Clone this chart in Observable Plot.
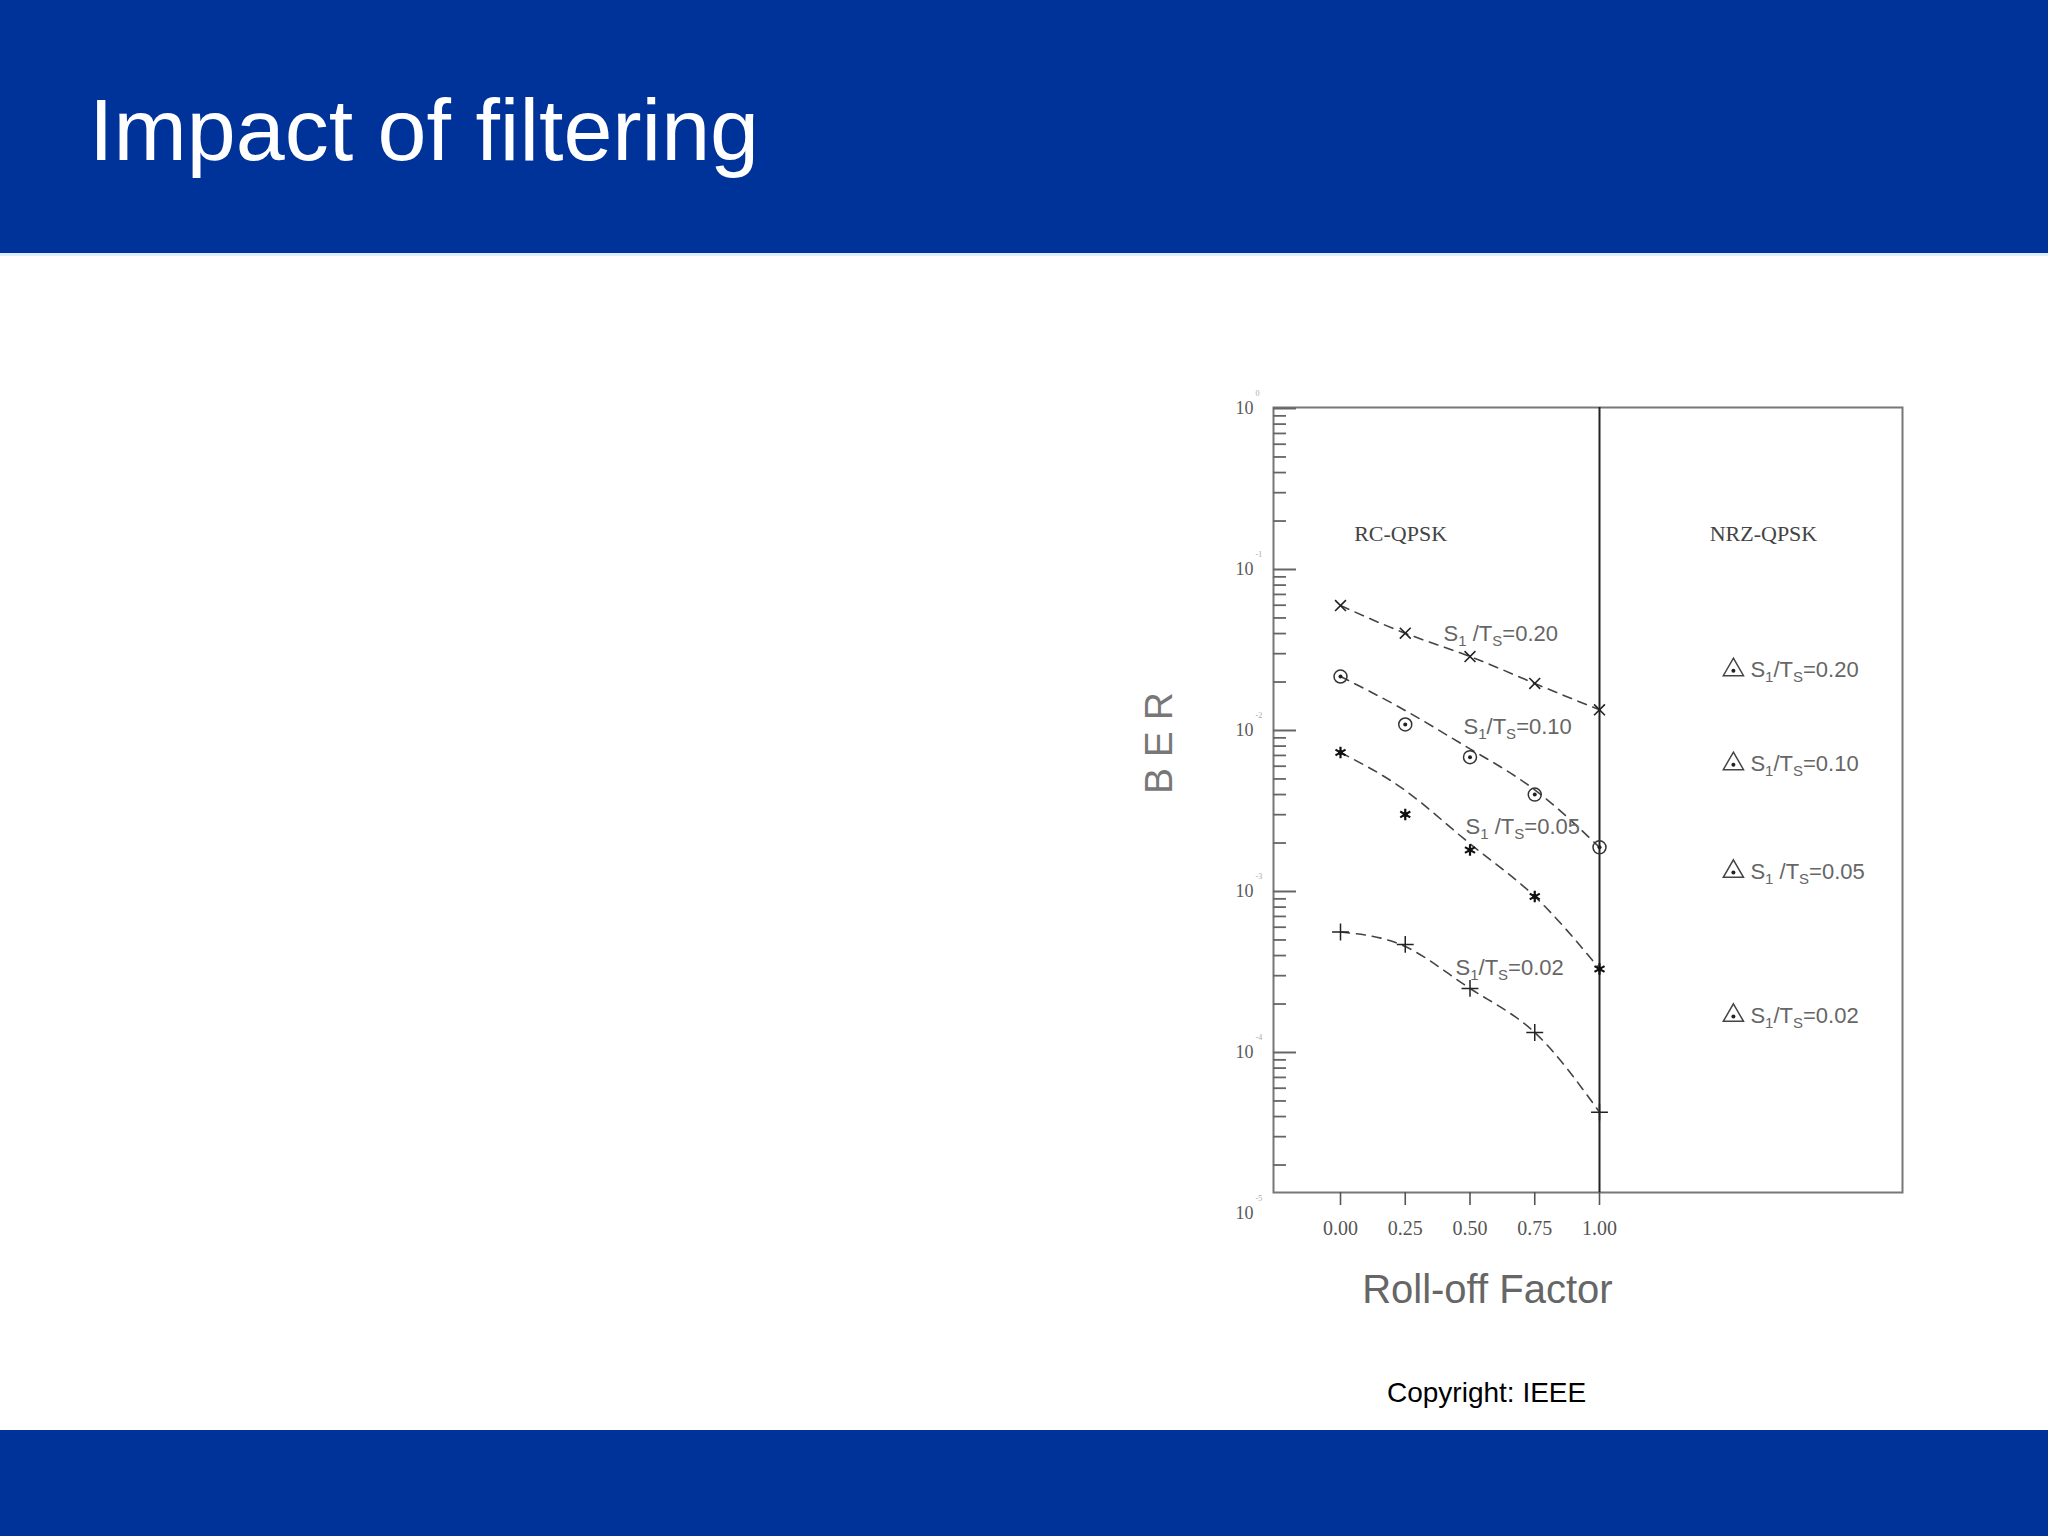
<!DOCTYPE html>
<html>
<head>
<meta charset="utf-8">
<script src="https://cdn.jsdelivr.net/npm/d3@7"></script>
<script src="https://cdn.jsdelivr.net/npm/@observablehq/plot@0.6"></script>
<style>
  html, body { margin: 0; padding: 0; background: #ffffff; }
  #page { position: relative; width: 2048px; height: 1536px; overflow: hidden; background: #ffffff; font-family: "Liberation Sans", Arial, sans-serif; }
  #header { position: absolute; left: 0; top: 0; width: 2048px; height: 253px; background: #003399; border-bottom: 3px solid #dcefff; box-sizing: content-box; }
  #title { position: absolute; left: 89px; top: 86px; font-size: 88px; line-height: 88px; color: #ffffff; white-space: nowrap; }
  #footer { position: absolute; left: 0; top: 1430px; width: 2048px; height: 106px; background: #003399; }
  #copyright { position: absolute; left: 1387px; top: 1379px; font-size: 28px; line-height: 28px; color: #000; white-space: nowrap; }
  #chart { position: absolute; left: 1100px; top: 370px; }
</style>
</head>
<body>
<div id="page">
  <div id="header"><div id="title">Impact of filtering</div></div>
  <div id="chart"></div>
  <div id="copyright">Copyright: IEEE</div>
  <div id="footer"></div>
</div>
<script>
// ---------------- data ----------------
const rollOff = [0.00, 0.25, 0.50, 0.75, 1.00];
const xTickLabels = ["0.00", "0.25", "0.50", "0.75", "1.00"];

// measured BER points (RC-QPSK)
const ber020 = [0.0597, 0.0402, 0.0288, 0.0196, 0.01345];
const ber010 = [0.02164, 0.0109, 0.00683, 0.0040, 0.00188];
const ber005 = [0.0073, 0.00301, 0.00181, 0.000931, 0.00033];
const ber002 = [0.00056, 0.000469, 0.00025, 0.000133, 0.0000426];

// dashed fitted curves (read at the same roll-off values)
const fit020 = [0.0597, 0.0402, 0.0288, 0.0196, 0.01345];
const fit010 = [0.02164, 0.01331, 0.00769, 0.00428, 0.00188];
const fit005 = [0.0073, 0.00424, 0.00198, 0.000931, 0.000331];
const fit002 = [0.00056, 0.000455, 0.00025, 0.000133, 0.0000426];

const ratios = ["0.20", "0.10", "0.05", "0.02"];

// left-region series labels
const leftLabelText = ["S{1} /T{S}=0.20", "S{1}/T{S}=0.10", "S{1} /T{S}=0.05", "S{1}/T{S}=0.02"];
const leftLabelX = [0.398, 0.475, 0.483, 0.444];
const leftLabelY = [0.0400, 0.01045, 0.00250, 0.000333];

// NRZ-QPSK points (triangles)
const nrzX = [1.517, 1.517, 1.517, 1.517];
const nrzBer = [0.02382, 0.00621, 0.001331, 0.0001698];
const nrzLabelText = ["S{1}/T{S}=0.20", "S{1}/T{S}=0.10", "S{1} /T{S}=0.05", "S{1}/T{S}=0.02"];

// region labels
const regionText = ["RC-QPSK", "NRZ-QPSK"];
const regionX = [0.232, 1.633];
const regionY = [0.166, 0.166];

// y axis decades
const decades = [1, 1e-1, 1e-2, 1e-3, 1e-4, 1e-5];
const decadeExp = ["0", "-1", "-2", "-3", "-4", "-5"];
const minorMult = [2, 3, 4, 5, 6, 7, 8, 9];

const xLabel = "Roll-off Factor";
const yLabel = "B E R";

// ---------------- tables ----------------
const bers = [ber020, ber010, ber005, ber002];
const fits = [fit020, fit010, fit005, fit002];
const points = ratios.flatMap((r, s) => rollOff.map((x, i) => ({ratio: r, x, ber: bers[s][i]})));
const curves = ratios.flatMap((r, s) => rollOff.map((x, i) => ({ratio: r, x, ber: fits[s][i]})));
const leftLabels = ratios.map((r, i) => ({text: leftLabelText[i], x: leftLabelX[i], y: leftLabelY[i]}));
const nrz = ratios.map((r, i) => ({ratio: r, x: nrzX[i], ber: nrzBer[i], text: nrzLabelText[i]}));
const regions = regionText.map((t, i) => ({text: t, x: regionX[i], y: regionY[i]}));
const majorTicks = decades.filter(d => d >= 1e-4);
const minorTicks = decades.flatMap(d => minorMult.map(m => m * d)).filter(v => v < 1);
const decadeLabels = decades.map((d, i) => ({v: d, exp: decadeExp[i]}));

const bySeries = r => points.filter(d => d.ratio === r);

const W = 850, H = 960, ML = 173, MR = 48, MT = 37, MB = 138;
const frameW = W - ML - MR;
const serif = "Liberation Serif, Times New Roman, serif";
const sans = "Liberation Sans, Arial, sans-serif";

const chart = Plot.plot({
  width: W, height: H,
  marginLeft: ML, marginRight: MR, marginTop: MT, marginBottom: MB,
  style: {background: "transparent", fontFamily: sans, overflow: "visible"},
  x: {domain: [-0.2587, 2.1699]},
  y: {type: "log", domain: [1.35e-5, 1.0144], axis: null},
  marks: [
    Plot.frame({stroke: "#777", strokeWidth: 2}),
    // y ticks drawn inward
    Plot.tickY(majorTicks, {y: d => d, stroke: "#666", strokeWidth: 2, insetRight: frameW - 23}),
    Plot.tickY(minorTicks, {y: d => d, stroke: "#666", strokeWidth: 1.8, insetRight: frameW - 13}),
    // y decade labels
    Plot.text(decadeLabels, {y: "v", text: () => "10", frameAnchor: "left", dx: -20, textAnchor: "end",
      fontFamily: serif, fontSize: 18, fill: "#5a5a5a"}),
    Plot.text(decadeLabels, {y: "v", text: "exp", frameAnchor: "left", dx: -18, dy: -15, textAnchor: "start",
      fontFamily: serif, fontSize: 8, fill: "#aaa"}),
    // x axis
    Plot.axisX({ticks: rollOff, tickFormat: (d) => xTickLabels[rollOff.indexOf(d)], tickSize: 13, tickPadding: 15,
      fontFamily: serif, fontSize: 20, color: "#555", strokeWidth: 1.6, label: null}),
    // separator at roll-off 1.00
    Plot.ruleX([1], {stroke: "#222", strokeWidth: 2}),
    // fitted dashed curves
    Plot.line(curves, {x: "x", y: "ber", z: "ratio", curve: "natural", stroke: "#444", strokeWidth: 1.6, strokeDasharray: "9,7"}),
    // markers
    Plot.dot(bySeries("0.20"), {x: "x", y: "ber", symbol: "times", r: 5, stroke: "#222", strokeWidth: 1.6}),
    Plot.dot(bySeries("0.10"), {x: "x", y: "ber", symbol: "circle", r: 6.5, stroke: "#333", strokeWidth: 1.5, fill: "none"}),
    Plot.dot(bySeries("0.10"), {x: "x", y: "ber", r: 2, fill: "#222"}),
    Plot.dot(bySeries("0.05"), {x: "x", y: "ber", symbol: "asterisk", r: 5.5, stroke: "#111", strokeWidth: 2.2}),
    Plot.dot(bySeries("0.05"), {x: "x", y: "ber", r: 2.5, fill: "#111"}),
    Plot.dot(bySeries("0.02"), {x: "x", y: "ber", symbol: "plus", r: 5.5, stroke: "#222", strokeWidth: 1.5}),
    // series labels
    Plot.text(leftLabels, {x: "x", y: "y", text: "text", textAnchor: "start", fontSize: 22, fill: "#666"}),
    // NRZ triangles and labels
    Plot.dot(nrz, {x: "x", y: "ber", symbol: "triangle", r: 7.5, stroke: "#444", strokeWidth: 1.5, fill: "none"}),
    Plot.dot(nrz, {x: "x", y: "ber", r: 2, fill: "#222", dy: 1}),
    Plot.text(nrz, {x: "x", y: "ber", text: "text", dx: 17, textAnchor: "start", fontSize: 22, fill: "#666"}),
    // region labels
    Plot.text(regions, {x: "x", y: "y", text: "text", fontFamily: serif, fontSize: 22, fill: "#444"}),
    // axis labels
    Plot.text([yLabel], {text: d => d, frameAnchor: "left", rotate: -90, dx: -114, dy: -6, fontSize: 39, fill: "#777"}),
    Plot.text([xLabel], {text: d => d, x: 0.567, frameAnchor: "bottom", dy: 110, fontSize: 40, fill: "#666"})
  ]
});

// render {..} as subscripts
chart.querySelectorAll("text").forEach(t => {
  const s = t.textContent;
  if (!s.includes("{")) return;
  while (t.firstChild) t.removeChild(t.firstChild);
  const parts = s.split(/(\{[^}]*\})/);
  let sub = false;
  parts.forEach(p => {
    if (!p) return;
    const ts = document.createElementNS("http://www.w3.org/2000/svg", "tspan");
    if (p.startsWith("{")) {
      ts.textContent = p.slice(1, -1);
      ts.setAttribute("font-size", "15");
      ts.setAttribute("dy", sub ? "0" : "5");
      sub = true;
    } else {
      ts.textContent = p;
      if (sub) { ts.setAttribute("dy", "-5"); sub = false; }
    }
    t.appendChild(ts);
  });
});

document.getElementById("chart").appendChild(chart);
</script>
</body>
</html>
